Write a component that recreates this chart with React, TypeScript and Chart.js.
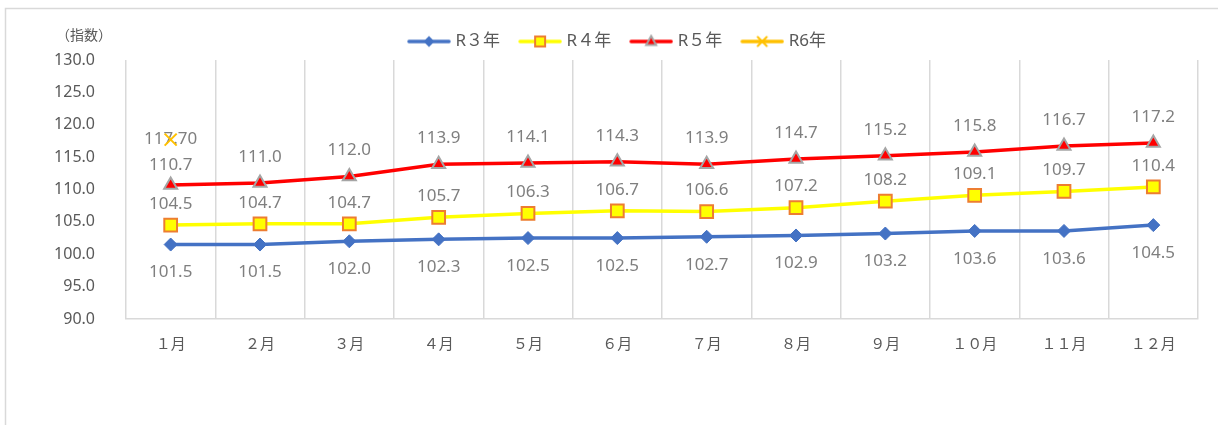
import { useEffect, useRef } from 'react';
import { Chart, registerables } from 'chart.js';

Chart.register(...registerables);

// Months on the category axis
const months = ['１月', '２月', '３月', '４月', '５月', '６月', '７月', '８月', '９月', '１０月', '１１月', '１２月'];

// Index values per fiscal year
const r3Values = [101.5, 101.5, 102.0, 102.3, 102.5, 102.5, 102.7, 102.9, 103.2, 103.6, 103.6, 104.5];
const r4Values = [104.5, 104.7, 104.7, 105.7, 106.3, 106.7, 106.6, 107.2, 108.2, 109.1, 109.7, 110.4];
const r5Values = [110.7, 111.0, 112.0, 113.9, 114.1, 114.3, 113.9, 114.7, 115.2, 115.8, 116.7, 117.2];
const r6Values: (number | null)[] = [117.7, null, null, null, null, null, null, null, null, null, null, null];

const seriesNames = ['R３年', 'R４年', 'R５年', 'R6年'];

// Value axis range
const yMin = 90;
const yMax = 130;
const yStep = 5;

const unitLabel = '（指数）';

const GREY_TEXT = '#595959';
const LABEL_TEXT = '#7f7f7f';
const GRID = '#d9d9d9';
const LATIN = '"Noto Sans", "Noto Sans CJK JP", sans-serif';

// Small line + marker icon used as a legend swatch
function legendIcon(lineColor: string, marker: (g: CanvasRenderingContext2D, cx: number, cy: number) => void) {
  const c = document.createElement('canvas');
  c.width = 52;
  c.height = 16;
  const g = c.getContext('2d')!;
  g.strokeStyle = lineColor;
  g.lineWidth = 3.5;
  g.lineCap = 'round';
  g.beginPath();
  g.moveTo(10, 8);
  g.lineTo(50, 8);
  g.stroke();
  marker(g, 30, 8);
  return c;
}

function buildLegendIcons() {
  return [
    legendIcon('#4472C4', (g, x, y) => {
      g.fillStyle = '#4472C4';
      g.beginPath();
      g.moveTo(x, y - 5.5);
      g.lineTo(x + 5.5, y);
      g.lineTo(x, y + 5.5);
      g.lineTo(x - 5.5, y);
      g.closePath();
      g.fill();
    }),
    legendIcon('#FFFF00', (g, x, y) => {
      g.fillStyle = '#FFFF00';
      g.strokeStyle = '#ED7D31';
      g.lineWidth = 2;
      g.fillRect(x - 5, y - 5, 10, 10);
      g.strokeRect(x - 5, y - 5, 10, 10);
    }),
    legendIcon('#FF0000', (g, x, y) => {
      g.fillStyle = '#FF0000';
      g.strokeStyle = '#A5A5A5';
      g.lineWidth = 2;
      g.beginPath();
      g.moveTo(x, y - 5.5);
      g.lineTo(x + 5, y + 3.5);
      g.lineTo(x - 5, y + 3.5);
      g.closePath();
      g.fill();
      g.stroke();
    }),
    legendIcon('#FFC000', (g, x, y) => {
      g.strokeStyle = '#FFC000';
      g.lineWidth = 2;
      g.beginPath();
      g.moveTo(x - 4.5, y - 4.5);
      g.lineTo(x + 4.5, y + 4.5);
      g.moveTo(x + 4.5, y - 4.5);
      g.lineTo(x - 4.5, y + 4.5);
      g.stroke();
    }),
  ];
}

// Outer frame of the chart and the unit caption
const framePlugin = {
  id: 'frame',
  beforeDraw(chart: any) {
    const { ctx, width, height } = chart;
    ctx.save();
    ctx.fillStyle = '#ffffff';
    ctx.fillRect(0, 0, width, height);
    ctx.strokeStyle = GRID;
    ctx.lineWidth = 1.5;
    ctx.strokeRect(5.5, 8.5, width + 20, height + 20);
    ctx.restore();
  },
  afterDraw(chart: any) {
    const { ctx } = chart;
    ctx.save();
    ctx.font = '14px "Noto Sans CJK JP", sans-serif';
    ctx.fillStyle = GREY_TEXT;
    ctx.textAlign = 'left';
    ctx.textBaseline = 'middle';
    ctx.fillText(unitLabel, 56, 35);
    ctx.restore();
  },
};

// Value labels next to each point
const valueLabelPlugin = {
  id: 'valueLabels',
  beforeDatasetsDraw(chart: any) {
    const { ctx } = chart;
    ctx.save();
    ctx.font = `17px ${LATIN}`;
    ctx.fillStyle = LABEL_TEXT;
    ctx.textAlign = 'center';
    ctx.textBaseline = 'middle';
    chart.data.datasets.forEach((ds: any, di: number) => {
      const meta = chart.getDatasetMeta(di);
      meta.data.forEach((pt: any, i: number) => {
        const v = ds.data[i];
        if (v == null) return;
        const nudge = (ds.labelNudge && ds.labelNudge[i]) || 0;
        ctx.fillText(Number(v).toFixed(ds.labelDecimals), pt.x, pt.y + ds.labelOffset + nudge);
      });
    });
    ctx.restore();
  },
};

export default function App() {
  const canvasRef = useRef<HTMLCanvasElement | null>(null);

  useEffect(() => {
    if (!canvasRef.current) return;
    const icons = buildLegendIcons();

    const chart = new Chart(canvasRef.current, {
      type: 'line',
      data: {
        labels: months,
        datasets: [
          {
            label: seriesNames[0],
            data: r3Values,
            borderColor: '#4472C4',
            backgroundColor: '#4472C4',
            borderWidth: 3.5,
            pointStyle: 'rectRot',
            pointRadius: 6.5,
            pointBorderWidth: 1,
            pointBackgroundColor: '#4472C4',
            pointBorderColor: '#4472C4',
            tension: 0,
            labelOffset: 28,
            labelDecimals: 1,
          } as any,
          {
            label: seriesNames[1],
            data: r4Values,
            borderColor: '#FFFF00',
            backgroundColor: '#FFFF00',
            borderWidth: 3.5,
            pointStyle: 'rect',
            pointRadius: 9,
            pointBorderWidth: 2,
            pointBackgroundColor: '#FFFF00',
            pointBorderColor: '#ED7D31',
            tension: 0,
            labelOffset: -21,
            labelDecimals: 1,
          } as any,
          {
            label: seriesNames[2],
            data: r5Values,
            borderColor: '#FF0000',
            backgroundColor: '#FF0000',
            borderWidth: 3.5,
            pointStyle: 'triangle',
            pointRadius: 7.5,
            pointBorderWidth: 2,
            pointBackgroundColor: '#FF0000',
            pointBorderColor: '#A5A5A5',
            tension: 0,
            labelOffset: -26,
            labelNudge: { 0: 6 },
            labelDecimals: 1,
          } as any,
          {
            label: seriesNames[3],
            data: r6Values,
            borderColor: '#FFC000',
            backgroundColor: '#FFC000',
            borderWidth: 3.5,
            pointStyle: 'crossRot',
            pointRadius: 8.5,
            pointBorderWidth: 2,
            pointBorderColor: '#FFC000',
            tension: 0,
            labelOffset: 0,
            labelDecimals: 2,
          } as any,
        ],
      },
      options: {
        responsive: false,
        animation: false,
        events: [],
        layout: { padding: { left: 31, right: 20, top: 16, bottom: 0 } },
        plugins: {
          tooltip: { enabled: false },
          legend: {
            position: 'top',
            align: 'center',
            labels: {
              usePointStyle: true,
              pointStyleWidth: 44,
              padding: 14,
              color: GREY_TEXT,
              font: { family: LATIN, size: 17 },
              generateLabels: (ch: any) => {
                const base = Chart.defaults.plugins.legend.labels.generateLabels(ch);
                return base.map((item: any, i: number) => ({ ...item, pointStyle: icons[i], rotation: 0 }));
              },
            },
          },
        },
        scales: {
          x: {
            offset: true,
            grid: { offset: true, color: GRID, lineWidth: 1.5, drawTicks: false },
            border: { display: true, color: GRID, width: 1.5 },
            ticks: { color: GREY_TEXT, font: { family: LATIN, size: 15 }, padding: 17, maxRotation: 0 },
            afterFit: (scale: any) => {
              scale.height = 106;
            },
          },
          y: {
            min: yMin,
            max: yMax,
            grid: { display: false },
            border: { display: false },
            ticks: {
              stepSize: yStep,
              color: GREY_TEXT,
              font: { family: LATIN, size: 16 },
              padding: 23,
              callback: (v: any) => Number(v).toFixed(1),
            },
            afterFit: (scale: any) => {
              scale.width = 95;
              // keep the plot area's top edge clear of the legend row
              scale.paddingTop = 60;
            },
          },
        },
      },
      plugins: [framePlugin, valueLabelPlugin],
    });

    return () => chart.destroy();
  }, []);

  return (
    <div style={{ position: 'absolute', left: 0, top: 0, width: 1218, height: 425 }}>
      <canvas ref={canvasRef} width={1218} height={425} style={{ display: 'block' }} />
    </div>
  );
}
